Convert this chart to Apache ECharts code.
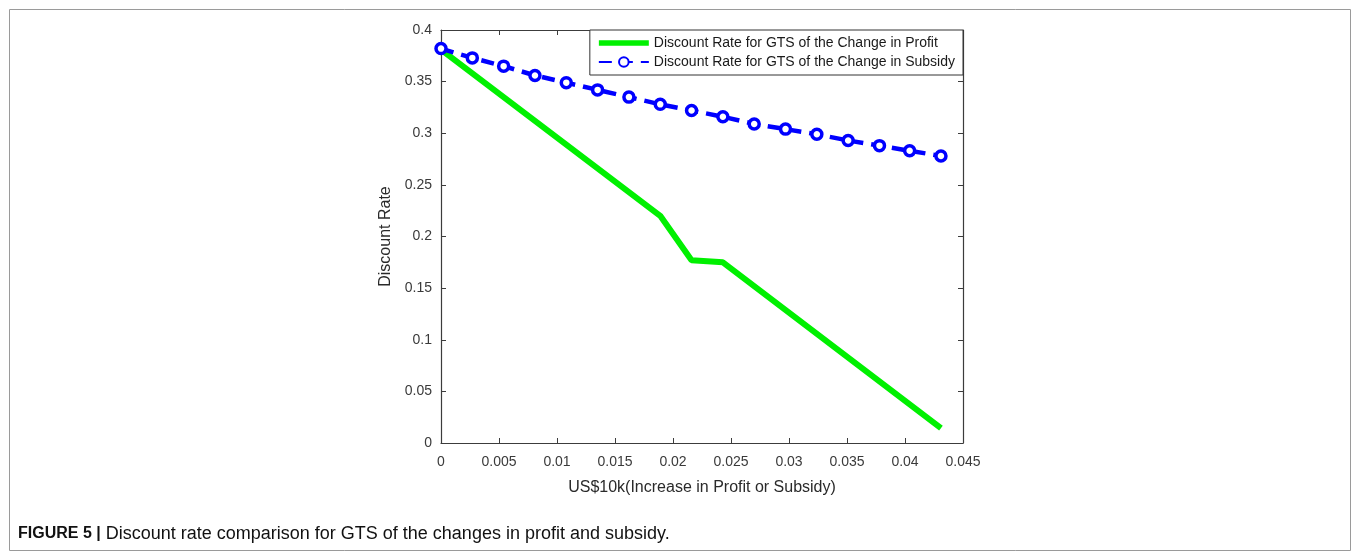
<!DOCTYPE html>
<html>
<head>
<meta charset="utf-8">
<script src="https://cdn.jsdelivr.net/npm/echarts@6/dist/echarts.min.js"></script>
<style>
html,body{margin:0;padding:0;background:#fff;}
#chart{width:1356px;height:558px;}
</style>
</head>
<body>
<div id="chart"></div>
<script>
// Data
var profitX = [0, 0.0189, 0.0216, 0.0243, 0.0431];
var profitY = [0.381, 0.220, 0.177, 0.175, 0.0145];
var subsidyX = [0, 0.0027, 0.0054, 0.0081, 0.0108, 0.0135, 0.0162, 0.0189, 0.0216, 0.0243, 0.0270, 0.0297, 0.0324, 0.0351, 0.0378, 0.0404, 0.0431];
var subsidyY = [0.382, 0.373, 0.365, 0.356, 0.349, 0.342, 0.335, 0.328, 0.322, 0.316, 0.309, 0.304, 0.299, 0.293, 0.288, 0.283, 0.278];
var seriesNames = ['Discount Rate for GTS of the Change in Profit', 'Discount Rate for GTS of the Change in Subsidy'];
var xTicks = [0, 0.005, 0.01, 0.015, 0.02, 0.025, 0.03, 0.035, 0.04, 0.045];
var yTicks = [0, 0.05, 0.1, 0.15, 0.2, 0.25, 0.3, 0.35, 0.4];
var xTitle = 'US$10k(Increase in Profit or Subsidy)';
var yTitle = 'Discount Rate';
var captionBold = 'FIGURE 5 |';
var captionText = ' Discount rate comparison for GTS of the changes in profit and subsidy.';

function pairs(xs, ys){ return xs.map(function(x,i){ return [x, ys[i]]; }); }
function fmt(v){ return String(+v.toFixed(4)); }

var font = '"Liberation Sans", Arial, Helvetica, sans-serif';
var axisColor = '#3c3c3c';
var labelColor = '#3a3a3a';

function boxAxis(extra){
  var base = {
    type: 'value',
    axisLine: {show: true, onZero: false, lineStyle: {color: axisColor, width: 1.2}},
    axisTick: {show: true, inside: true, length: 5, lineStyle: {color: axisColor}},
    splitLine: {show: false}
  };
  for (var k in extra) base[k] = extra[k];
  return base;
}

var chart = echarts.init(document.getElementById('chart'), null, {renderer:'canvas'});
var option = {
  animation: false,
  backgroundColor: '#fff',
  textStyle: {fontFamily: font},
  grid: {left: 441, top: 30, right: 393, bottom: 115, show: false},
  legend: {
    orient: 'vertical',
    right: 393, top: 30,
    backgroundColor: '#fff',
    borderColor: '#333', borderWidth: 1,
    padding: [6, 8, 6, 8],
    itemWidth: 50, itemHeight: 12, itemGap: 5,
    textStyle: {fontSize: 14, color: '#1a1a1a', fontFamily: font},
    data: [
      {name: seriesNames[0], icon: 'path://M0,0L50,0L50,0.01Z M0,3.2H50V8.8H0Z M0,12L50,12L50,12.01Z'},
      {name: seriesNames[1]}
    ]
  },
  xAxis: [
    boxAxis({min: 0, max: 0.045, interval: 0.005, position: 'bottom',
      axisLabel: {color: labelColor, fontSize: 14, margin: 12, formatter: function(v){ return fmt(v); }},
      name: xTitle, nameLocation: 'middle', nameGap: 37,
      nameTextStyle: {fontSize: 16, color: '#2a2a2a'}}),
    boxAxis({min: 0, max: 0.045, interval: 0.005, position: 'top', axisLabel: {show: false}})
  ],
  yAxis: [
    boxAxis({min: 0, max: 0.4, interval: 0.05, position: 'left',
      axisLabel: {color: labelColor, fontSize: 14, margin: 9, formatter: function(v){ return fmt(v); }},
      name: yTitle, nameLocation: 'middle', nameGap: 47, nameRotate: 90,
      nameTextStyle: {fontSize: 16, color: '#2a2a2a'}}),
    boxAxis({min: 0, max: 0.4, interval: 0.05, position: 'right', axisLabel: {show: false}})
  ],
  series: [{
    name: seriesNames[0], type: 'line',
    xAxisIndex: 0, yAxisIndex: 0,
    data: pairs(profitX, profitY),
    showSymbol: false, symbol: 'none',
    lineStyle: {color: '#00f000', width: 6},
    itemStyle: {color: '#00f000'},
    z: 3
  }, {
    name: seriesNames[1], type: 'line',
    xAxisIndex: 0, yAxisIndex: 0,
    data: pairs(subsidyX, subsidyY),
    symbol: 'circle', symbolSize: 10, showSymbol: true,
    lineStyle: {color: '#0000ff', width: 4.5, type: [13, 8]},
    itemStyle: {color: '#ffffff', borderColor: '#0000ff', borderWidth: 3.5},
    z: 4
  }],
  graphic: [{
    type: 'rect', left: 7, top: 7, z: -10, silent: true,
    shape: {width: 1341, height: 541},
    style: {fill: 'none', stroke: '#9a9a9a', lineWidth: 1}
  }, {
    type: 'text', left: 18, top: 525, silent: true,
    style: {
      text: '{b|' + captionBold + '}{r|' + captionText + '}',
      rich: {
        b: {fontFamily: font, fontSize: 16, fontWeight: 'bold', fill: '#111'},
        r: {fontFamily: font, fontSize: 18, fill: '#111'}
      }
    }
  }]
};
chart.setOption(option);
</script>
</body>
</html>
